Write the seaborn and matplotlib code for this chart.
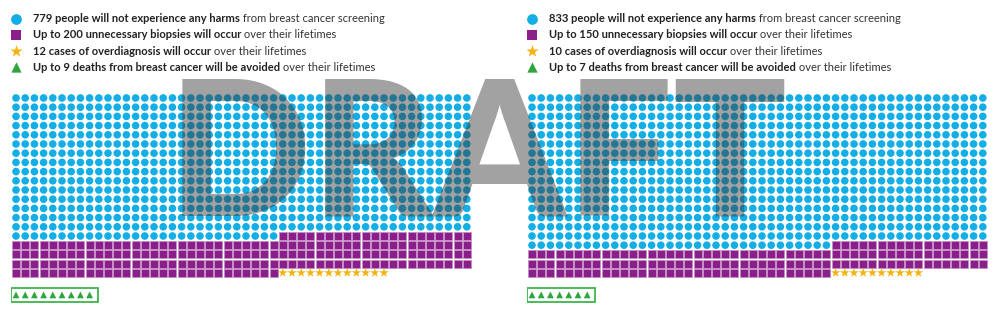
import numpy as np
import pandas as pd
import seaborn as sns
import matplotlib.pyplot as plt
from matplotlib.patches import Rectangle

# Outcomes per 1000 women screened, left and right panel
no_harm = [779, 833]
biopsies = [200, 150]
overdiagnosis = [12, 10]
deaths_avoided = [9, 7]

# Legend labels: bold part + normal part
bold_labels = [
    ["779 people will not experience any harms",
     "Up to 200 unnecessary biopsies will occur",
     "12 cases of overdiagnosis will occur",
     "Up to 9 deaths from breast cancer will be avoided"],
    ["833 people will not experience any harms",
     "Up to 150 unnecessary biopsies will occur",
     "10 cases of overdiagnosis will occur",
     "Up to 7 deaths from breast cancer will be avoided"],
]
rest_labels = [" from breast cancer screening", " over their lifetimes",
               " over their lifetimes", " over their lifetimes"]

kinds = ["none", "biopsy", "overdiag", "death"]
colors = {"none": "#12aee5", "biopsy": "#8a1f8c", "overdiag": "#f7b20a", "death": "#2ea63e"}
markers = {"none": "o", "biopsy": "s", "overdiag": "*", "death": "^"}
sizes = {"none": 30, "biopsy": 36, "overdiag": 50, "death": 24}
legend_sizes = {"none": 60, "biopsy": 60, "overdiag": 85, "death": 55}
edges = {"none": "none", "biopsy": "#c58fc6", "overdiag": "none", "death": "none"}

N_COLS = 50
TRI_ROW = 21.4
legend_rows = [-8.6, -6.85, -5.1, -3.35]

sns.set_style("white")
plt.rcParams["font.family"] = ["Lato", "DejaVu Sans"]

fig = plt.figure(figsize=(10, 3.36), dpi=100)
lefts = [0.0114, 0.5274]

for p in range(2):
    ax = fig.add_axes([lefts[p], 0.0786, 0.46, 0.9036])

    # fill the 50-wide grid row by row
    grid_kinds = ["none"] * no_harm[p] + ["biopsy"] * biopsies[p] + ["overdiag"] * overdiagnosis[p]
    idx = np.arange(len(grid_kinds))
    df = pd.DataFrame({"col": idx % N_COLS, "row": idx // N_COLS, "kind": grid_kinds})
    tri = pd.DataFrame({"col": np.arange(deaths_avoided[p]), "row": TRI_ROW, "kind": "death"})
    df = pd.concat([df, tri], ignore_index=True)

    for k in kinds:
        sub = df[df["kind"] == k]
        sns.scatterplot(data=sub, x="col", y="row", marker=markers[k], color=colors[k],
                        s=sizes[k], edgecolor=edges[k], linewidth=0.5 if k == "biopsy" else 0,
                        ax=ax, legend=False)

    # box around the deaths avoided
    ax.add_patch(Rectangle((-0.55, TRI_ROW - 0.78), deaths_avoided[p] - 0.05 + 0.5, 1.6,
                           fill=False, edgecolor="#3db54a", linewidth=1.3))

    # legend
    for i, k in enumerate(kinds):
        ax.scatter(0, legend_rows[i], marker=markers[k], color=colors[k], s=legend_sizes[k], linewidth=0)
        t = ax.text(1.85, legend_rows[i], bold_labels[p][i], fontsize=8, fontweight="bold",
                    va="center", ha="left", color="#222222")
        ax.annotate(rest_labels[i], xy=(1, 0), xycoords=t, va="bottom", ha="left",
                    fontsize=8, color="#333333")

    ax.set_xlim(-0.5, 49.5)
    ax.set_ylim(23, -10)
    ax.axis("off")

# watermark
fig.text(0.478, 0.36, "DRAFT", fontsize=136, fontweight="black", color="#3a3a3a",
         alpha=0.47, ha="center", va="baseline")

fig.savefig("out.png", dpi=100)
